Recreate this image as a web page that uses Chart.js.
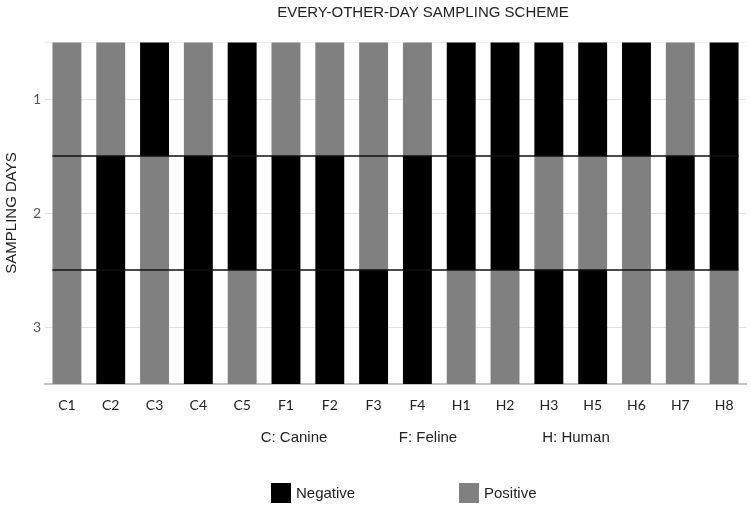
<!DOCTYPE html>
<html>
<head>
<meta charset="utf-8">
<title>Every-other-day sampling scheme</title>
<script src="https://cdn.jsdelivr.net/npm/chart.js@4.4.0/dist/chart.umd.min.js"></script>
<style>
    body { margin: 0; background: #fff; }
    #wrap { width: 750px; height: 509px; }
</style>
</head>
<body>
<div id="wrap"><canvas id="schemeChart"></canvas></div>
<script>
// Samples along the x axis
const samples = ['C1', 'C2', 'C3', 'C4', 'C5', 'F1', 'F2', 'F3', 'F4', 'H1', 'H2', 'H3', 'H5', 'H6', 'H7', 'H8'];

// Result of each sample per sampling day (N = negative, P = positive)
const day1 = ['P', 'P', 'N', 'P', 'N', 'P', 'P', 'P', 'P', 'N', 'N', 'N', 'N', 'N', 'P', 'N'];
const day2 = ['P', 'N', 'P', 'N', 'N', 'N', 'N', 'P', 'N', 'N', 'N', 'P', 'P', 'P', 'N', 'N'];
const day3 = ['P', 'N', 'P', 'N', 'P', 'N', 'N', 'N', 'N', 'P', 'P', 'N', 'N', 'P', 'P', 'P'];

const dayLabels = ['1', '2', '3'];
const groupNotes = ['C: Canine', 'F: Feline', 'H: Human'];
const resultKeys = ['N', 'P'];
const resultNames = { N: 'Negative', P: 'Positive' };
const resultColors = { N: '#000000', P: '#808080' };

const FONT = '"Liberation Sans", Arial, sans-serif';

// Black lines between the sampling days, drawn over the bars
const dayDividers = {
    id: 'dayDividers',
    afterDatasetsDraw(chart) {
        const meta = chart.getDatasetMeta(0);
        const first = meta.data[0];
        const last = meta.data[meta.data.length - 1];
        const left = first.x - first.width / 2;
        const right = last.x + last.width / 2;
        const yScale = chart.scales.y;
        const ctx = chart.ctx;
        ctx.save();
        ctx.strokeStyle = '#111';
        ctx.lineWidth = 1.5;
        for (let v = 1; v < dayLabels.length; v++) {
            const py = yScale.getPixelForValue(v);
            ctx.beginPath();
            ctx.moveTo(left, py);
            ctx.lineTo(right, py);
            ctx.stroke();
        }
        ctx.restore();
    }
};

// Group notes and the key under the axis
const footer = {
    id: 'footer',
    afterLayout(chart) {
        // the title sits a bit right of centre in the original
        chart.titleBlock.left += 50;
        chart.titleBlock.right += 50;
    },
    afterDraw(chart) {
        const ctx = chart.ctx;
        ctx.save();
        ctx.font = '15px ' + FONT;
        ctx.textBaseline = 'middle';
        ctx.textAlign = 'center';
        ctx.fillStyle = '#222';
        const noteX = [294, 428, 576];
        groupNotes.forEach((t, i) => ctx.fillText(t, noteX[i], 438));

        ctx.textAlign = 'left';
        const keyX = [271, 459];
        resultKeys.forEach((k, i) => {
            ctx.fillStyle = resultColors[k];
            ctx.fillRect(keyX[i], 483, 20, 20);
            ctx.fillStyle = '#222';
            ctx.fillText(resultNames[k], keyX[i] + 25, 494);
        });
        ctx.restore();
    }
};

const days = [day1, day2, day3];

new Chart(document.getElementById('schemeChart'), {
    type: 'bar',
    data: {
        labels: samples,
        datasets: days.map((d, i) => ({
            label: 'Day ' + dayLabels[i],
            data: d.map(() => 1),
            backgroundColor: d.map(r => resultColors[r]),
            borderWidth: 0,
            barPercentage: 0.66,
            categoryPercentage: 1.0
        }))
    },
    options: {
        responsive: true,
        maintainAspectRatio: false,
        animation: false,
        layout: { padding: { left: 0, right: 4, top: 0, bottom: 85 } },
        plugins: {
            legend: { display: false },
            tooltip: { enabled: false },
            title: {
                display: true,
                text: 'EVERY-OTHER-DAY SAMPLING SCHEME',
                color: '#222',
                font: { family: FONT, size: 15, weight: 'normal' },
                padding: { top: 4, bottom: 20 }
            }
        },
        scales: {
            x: {
                stacked: true,
                afterFit: s => { s.height = 40; },
                grid: { display: false },
                border: { display: true, color: '#c6c6c6', width: 2 },
                ticks: {
                    padding: 5,
                    color: '#222',
                    autoSkip: false,
                    maxRotation: 0,
                    font: { family: 'Lato', size: 14 }
                }
            },
            y: {
                stacked: true,
                reverse: true,
                min: 0,
                max: 3,
                afterBuildTicks: s => { s.ticks = [0, 0.5, 1.5, 2.5].map(v => ({ value: v })); },
                afterFit: s => { s.width = 45; },
                border: { display: false },
                grid: {
                    drawTicks: false,
                    color: c => (c.tick && c.tick.value === 0) ? '#eeeeee' : '#e2e2e2'
                },
                ticks: {
                    padding: 4,
                    color: '#555',
                    font: { family: 'Lato', size: 14 },
                    callback: v => (v % 1 ? dayLabels[Math.floor(v)] : '')
                },
                title: {
                    display: true,
                    text: 'SAMPLING DAYS',
                    color: '#222',
                    font: { family: FONT, size: 15 },
                    padding: { top: 3, bottom: 0 }
                }
            }
        }
    },
    plugins: [dayDividers, footer]
});
</script>
</body>
</html>
